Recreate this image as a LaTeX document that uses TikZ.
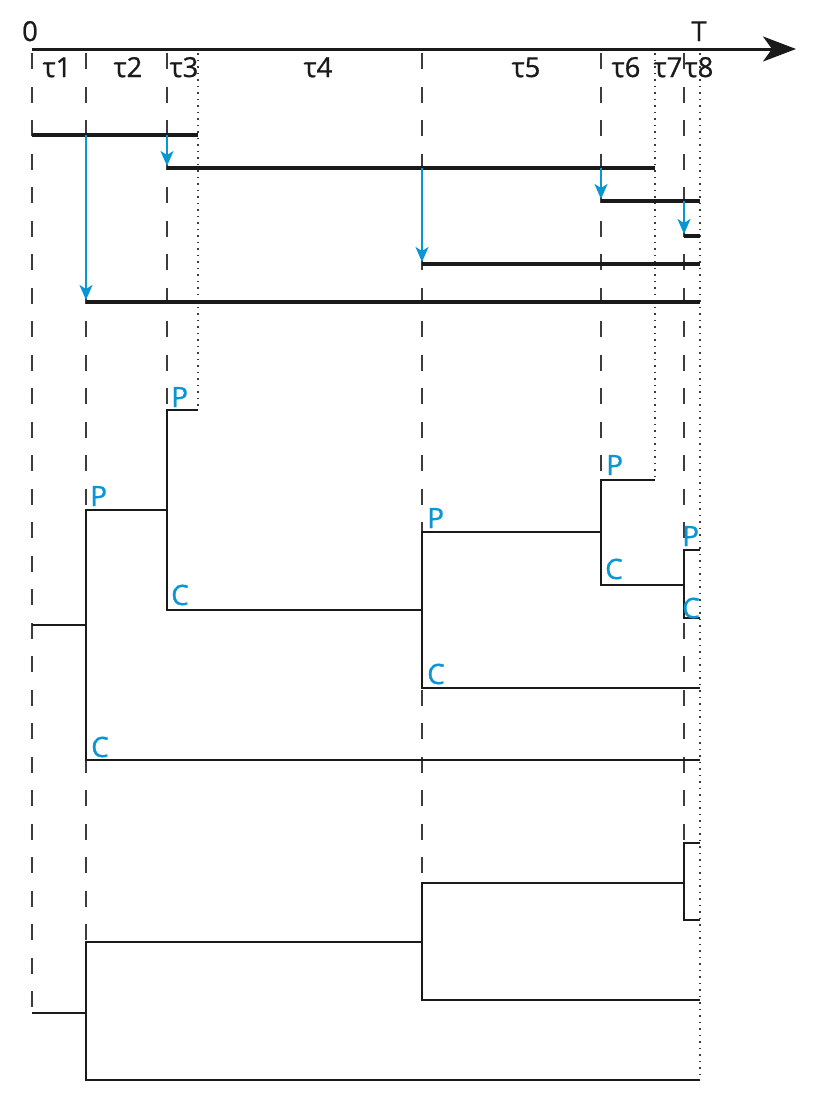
\documentclass[tikz,border=0pt]{standalone}
\usepackage{fontspec}
\setmainfont{Open Sans}
\newfontfamily\tlfont{Open Sans}[FakeBold=0.8]
\usepackage{tikz}
\usetikzlibrary{arrows.meta,calc}
\definecolor{tlBlue}{HTML}{0A96D4}
\definecolor{tlInk}{HTML}{1A1A1A}
\tikzset{
  axis/.style={-{Stealth[length=33pt,width=25pt,inset=9pt]}, line width=3pt, draw=tlInk},
  seg/.style={line width=4.2pt, draw=tlInk},
  hop/.style={-{Stealth[length=15pt,width=13pt,inset=4pt]}, line width=1.8pt, draw=tlBlue},
  tick/.style={line width=1.5pt, draw=tlInk!85, dash pattern=on 16pt off 17.5pt},
  bound/.style={line width=1.6pt, draw=tlInk!85, dash pattern=on 1.6pt off 4.9pt},
  branch/.style={line width=1.3pt, draw=tlInk},
  lab/.style={font=\tlfont\fontsize{27.5}{30}\selectfont, text=tlInk, inner sep=0pt, anchor=base},
  pc/.style={font=\tlfont\fontsize{28}{30}\selectfont, text=tlBlue, inner sep=0pt, anchor=base west}
}
\begin{document}
\begin{tikzpicture}[x=1pt,y=-1pt]
  \useasboundingbox (0,0) rectangle (818,1114);
  \coordinate (t0) at (32,49);
  \coordinate (t1) at (86,49);
  \coordinate (t2) at (167,49);
  \coordinate (t3) at (198,49);
  \coordinate (t4) at (422,49);
  \coordinate (t5) at (601,49);
  \coordinate (t6) at (655,49);
  \coordinate (t7) at (684,49);
  \coordinate (t8) at (700,49);
  \coordinate (tend) at (796,49);
  \draw[axis] (t0) -- (tend);
  \node[lab] (zero) at (30,41) {0};
  \node[lab] (T) at (699,41) {T};
  \foreach \n/\x in {1/57,2/128,3/184,4/318,5/526,6/626,7/668,8/699}
    \node[lab] (tau\n) at (\x,77) {τ\n};
  \foreach \t/\y in {t0/1013,t1/942,t2/610,t4/883,t5/585,t7/843}
    \draw[tick] ([yshift=-4pt]\t) -- (\t |- 0,\y);
  \foreach \t/\y in {t3/410,t6/480,t8/1080}
    \draw[bound] ([yshift=-4pt]\t) -- (\t |- 0,\y);
  \draw[seg] (t0 |- 0,135) -- (t3 |- 0,135);
  \draw[seg] (t2 |- 0,168) -- (t6 |- 0,168);
  \draw[seg] (t5 |- 0,201) -- (t8 |- 0,201);
  \draw[seg] (t7 |- 0,236) -- (t8 |- 0,236);
  \draw[seg] (t4 |- 0,264) -- (t8 |- 0,264);
  \draw[seg] (t1 |- 0,302) -- (t8 |- 0,302);
  \draw[hop] (t1 |- 0,135) -- (t1 |- 0,300);
  \draw[hop] (t2 |- 0,135) -- (t2 |- 0,166);
  \draw[hop] (t4 |- 0,168) -- (t4 |- 0,262);
  \draw[hop] (t5 |- 0,168) -- (t5 |- 0,199);
  \draw[hop] (t7 |- 0,201) -- (t7 |- 0,234);
  \draw[branch] (t0 |- 0,625) -- (t1 |- 0,625);
  \draw[branch] (t2 |- 0,510) -| (t1 |- 0,760) -- (t8 |- 0,760);
  \draw[branch] (t3 |- 0,410) -| (t2 |- 0,610) -- (t4 |- 0,610);
  \draw[branch] (t5 |- 0,532) -| (t4 |- 0,688) -- (t8 |- 0,688);
  \draw[branch] (t6 |- 0,480) -| (t5 |- 0,585) -- (t7 |- 0,585);
  \draw[branch] (t8 |- 0,550) -| (t7 |- 0,618) -- (t8 |- 0,618);
  \draw[branch] (t0 |- 0,1013) -- (t1 |- 0,1013);
  \draw[branch] (t4 |- 0,942) -| (t1 |- 0,1080) -- (t8 |- 0,1080);
  \draw[branch] (t7 |- 0,883) -| (t4 |- 0,1000) -- (t8 |- 0,1000);
  \draw[branch] (t8 |- 0,843) -| (t7 |- 0,920) -- (t8 |- 0,920);
  \node[pc] (p1) at (90,506) {P};
  \node[pc] (c1) at (91,757) {C};
  \node[pc] (p2) at (171,407) {P};
  \node[pc] (c2) at (171,605) {C};
  \node[pc] (p4) at (427,528) {P};
  \node[pc] (c4) at (427,684) {C};
  \node[pc] (p5) at (606,475) {P};
  \node[pc] (c5) at (605,579) {C};
  \node[pc] (p7) at (682,546) {P};
  \node[pc] (c7) at (682,618) {C};
\end{tikzpicture}
\end{document}
